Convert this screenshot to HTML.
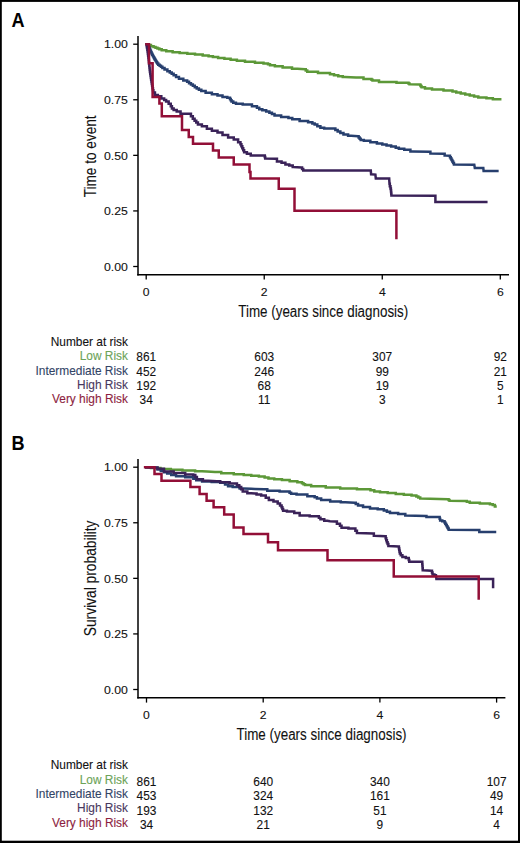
<!DOCTYPE html>
<html><head><meta charset="utf-8"><style>
html,body{margin:0;padding:0;background:#fff;}
svg{display:block;}
text{font-family:"Liberation Sans",sans-serif;fill:#111;stroke:#111;stroke-width:0.1px;}
</style></head><body>
<svg width="520" height="843" viewBox="0 0 520 843">
<rect x="0" y="0" width="520" height="843" fill="#fff"/>
<rect x="0" y="0" width="1.8" height="843" fill="#000"/><rect x="0" y="0" width="520" height="1.9" fill="#000"/><rect x="518" y="0" width="2" height="843" fill="#000"/><rect x="0" y="840.7" width="520" height="2.3" fill="#000"/>
<text transform="translate(11.5,26.9) scale(0.93,1)" font-size="19.5" font-weight="bold" style="fill:#000;stroke:none">A</text>
<text transform="translate(11.6,450) scale(0.93,1)" font-size="19.5" font-weight="bold" style="fill:#000;stroke:none">B</text>
<line x1="138" y1="36" x2="138" y2="275.5" stroke="#000" stroke-width="1.5"/>
<line x1="137.25" y1="274.8" x2="509" y2="274.8" stroke="#000" stroke-width="1.4"/>
<line x1="133.2" y1="44.20" x2="138" y2="44.20" stroke="#000" stroke-width="1.3"/>
<text transform="translate(127.9,48.40) scale(1.07,1)" font-size="11.5" text-anchor="end">1.00</text>
<line x1="133.2" y1="99.78" x2="138" y2="99.78" stroke="#000" stroke-width="1.3"/>
<text transform="translate(127.9,103.98) scale(1.07,1)" font-size="11.5" text-anchor="end">0.75</text>
<line x1="133.2" y1="155.35" x2="138" y2="155.35" stroke="#000" stroke-width="1.3"/>
<text transform="translate(127.9,159.55) scale(1.07,1)" font-size="11.5" text-anchor="end">0.50</text>
<line x1="133.2" y1="210.93" x2="138" y2="210.93" stroke="#000" stroke-width="1.3"/>
<text transform="translate(127.9,215.12) scale(1.07,1)" font-size="11.5" text-anchor="end">0.25</text>
<line x1="133.2" y1="266.50" x2="138" y2="266.50" stroke="#000" stroke-width="1.3"/>
<text transform="translate(127.9,270.70) scale(1.07,1)" font-size="11.5" text-anchor="end">0.00</text>
<line x1="146.20" y1="274.8" x2="146.20" y2="279.6" stroke="#000" stroke-width="1.3"/>
<text transform="translate(146.20,295.7) scale(1.05,1)" font-size="11.6" text-anchor="middle">0</text>
<line x1="264.23" y1="274.8" x2="264.23" y2="279.6" stroke="#000" stroke-width="1.3"/>
<text transform="translate(264.23,295.7) scale(1.05,1)" font-size="11.6" text-anchor="middle">2</text>
<line x1="382.27" y1="274.8" x2="382.27" y2="279.6" stroke="#000" stroke-width="1.3"/>
<text transform="translate(382.27,295.7) scale(1.05,1)" font-size="11.6" text-anchor="middle">4</text>
<line x1="500.30" y1="274.8" x2="500.30" y2="279.6" stroke="#000" stroke-width="1.3"/>
<text transform="translate(500.30,295.7) scale(1.05,1)" font-size="11.6" text-anchor="middle">6</text>
<text x="323.25" y="316.8" font-size="16" text-anchor="middle" textLength="170" lengthAdjust="spacingAndGlyphs">Time (years since diagnosis)</text>
<text transform="translate(95.5,156.35) rotate(-90)" x="0" y="0" font-size="16" text-anchor="middle" textLength="82" lengthAdjust="spacingAndGlyphs">Time to event</text>
<polyline points="146.90,44.30 148.10,44.30 148.10,45.00 149.30,45.00 150.95,45.00 150.95,46.20 152.60,46.20 153.57,46.20 153.57,47.00 155.53,47.00 155.53,47.80 156.50,47.80 157.45,47.80 157.45,48.55 159.35,48.55 159.35,49.30 160.30,49.30 161.70,49.30 161.70,50.30 163.10,50.30 166.28,50.30 166.28,51.30 172.62,51.30 172.62,52.30 175.80,52.30 179.65,52.30 179.65,53.05 187.35,53.05 187.35,53.80 191.20,53.80 195.02,53.80 195.02,54.60 202.68,54.60 202.68,55.40 206.50,55.40 208.62,55.40 208.62,56.20 212.88,56.20 212.88,57.00 215.00,57.00 218.12,57.00 218.12,57.92 224.38,57.92 224.38,58.85 230.62,58.85 230.62,59.78 236.88,59.78 236.88,60.70 240.00,60.70 245.00,60.70 245.00,61.75 255.00,61.75 255.00,62.80 260.00,62.80 263.50,62.80 263.50,63.40 267.00,63.40 268.00,63.40 268.00,64.30 270.00,64.30 270.00,65.20 271.00,65.20 274.88,65.20 274.88,66.30 282.62,66.30 282.62,67.40 286.50,67.40 292.00,67.40 292.00,68.80 297.50,68.80 305.00,69.30 305.75,69.30 305.75,70.55 307.25,70.55 307.25,71.80 308.00,71.80 318.00,71.80 318.00,73.10 328.00,73.10 330.00,73.10 330.00,74.20 334.00,74.20 334.00,75.30 336.00,75.30 338.25,75.30 338.25,76.15 342.75,76.15 342.75,77.00 345.00,77.00 356.00,77.60 363.50,77.60 363.50,79.00 371.00,79.00 371.50,79.00 371.50,79.80 372.50,79.80 372.50,80.60 373.00,80.60 379.00,80.60 379.00,81.90 385.00,81.90 396.50,81.90 396.50,82.80 408.00,82.80 408.50,82.80 408.50,83.55 409.50,83.55 409.50,84.30 410.00,84.30 420.00,84.60 420.33,84.60 420.33,85.50 421.00,85.50 421.00,86.40 421.67,86.40 421.67,87.30 422.00,87.30 425.00,87.30 425.00,88.40 428.00,88.40 432.00,88.40 432.00,89.60 436.00,89.60 443.50,89.60 443.50,90.50 451.00,90.50 452.50,90.50 452.50,91.50 454.00,91.50 456.25,91.50 456.25,92.55 460.75,92.55 460.75,93.60 463.00,93.60 465.25,93.60 465.25,94.60 469.75,94.60 469.75,95.60 472.00,95.60 474.10,95.60 474.10,96.60 478.30,96.60 478.30,97.60 480.40,97.60 486.45,97.60 486.45,98.30 492.50,98.30 492.85,98.30 492.85,99.30 493.20,99.30 500.20,99.30" fill="none" stroke="#5c9838" stroke-width="2.5" stroke-linejoin="miter" stroke-linecap="square"/>
<polyline points="146.90,44.30 147.70,44.30 147.70,46.00 148.50,46.00 148.80,46.00 148.80,47.25 149.40,47.25 149.40,48.50 149.70,48.50 149.96,48.50 149.96,49.75 150.49,49.75 150.49,51.00 151.01,51.00 151.01,52.25 151.54,52.25 151.54,53.50 151.80,53.50 152.14,53.50 152.14,54.75 152.81,54.75 152.81,56.00 153.49,56.00 153.49,57.25 154.16,57.25 154.16,58.50 154.50,58.50 154.89,58.50 154.89,59.75 155.66,59.75 155.66,61.00 156.44,61.00 156.44,62.25 157.21,62.25 157.21,63.50 157.60,63.50 158.28,63.50 158.28,64.65 159.62,64.65 159.62,65.80 160.30,65.80 161.00,65.80 161.00,66.85 162.40,66.85 162.40,67.90 163.10,67.90 164.53,67.90 164.53,69.55 167.38,69.55 167.38,71.20 168.80,71.20 169.77,71.20 169.77,72.53 171.70,72.53 171.70,73.87 173.63,73.87 173.63,75.20 174.60,75.20 176.05,75.20 176.05,76.95 178.95,76.95 178.95,78.70 180.40,78.70 183.30,78.70 183.30,80.40 186.20,80.40 187.15,80.40 187.15,81.77 189.05,81.77 189.05,83.13 190.95,83.13 190.95,84.50 191.90,84.50 192.87,84.50 192.87,85.83 194.80,85.83 194.80,87.17 196.73,87.17 196.73,88.50 197.70,88.50 198.90,88.50 198.90,89.75 201.30,89.75 201.30,91.00 202.50,91.00 205.62,91.00 205.62,92.65 211.88,92.65 211.88,94.30 215.00,94.30 217.50,94.30 217.50,95.60 222.50,95.60 222.50,96.90 225.00,96.90 227.30,96.90 227.30,97.70 229.60,97.70 229.98,97.70 229.98,98.97 230.75,98.97 230.75,100.23 231.52,100.23 231.52,101.50 231.90,101.50 233.25,101.50 233.25,102.65 235.95,102.65 235.95,103.80 237.30,103.80 242.70,103.80 242.70,104.60 248.10,104.60 251.95,104.60 251.95,106.20 255.80,106.20 256.95,106.20 256.95,107.70 259.25,107.70 259.25,109.20 260.40,109.20 262.32,109.20 262.32,110.35 266.18,110.35 266.18,111.50 268.10,111.50 269.38,111.50 269.38,112.80 271.95,112.80 271.95,114.10 274.52,114.10 274.52,115.40 275.80,115.40 281.15,115.40 281.15,116.90 286.50,116.90 288.43,116.90 288.43,118.05 292.27,118.05 292.27,119.20 294.20,119.20 299.60,119.20 299.60,121.00 305.00,121.00 308.10,121.00 308.10,122.30 311.20,122.30 312.35,122.30 312.35,123.45 314.65,123.45 314.65,124.60 315.80,124.60 317.32,124.60 317.32,126.15 320.38,126.15 320.38,127.70 321.90,127.70 324.20,127.70 324.20,128.50 326.50,128.50 334.20,128.50 335.35,128.50 335.35,130.00 337.65,130.00 337.65,131.50 338.80,131.50 340.35,131.50 340.35,133.05 343.45,133.05 343.45,134.60 345.00,134.60 348.10,134.60 348.10,135.70 351.20,135.70 358.10,136.20 358.62,136.20 358.62,137.47 359.65,137.47 359.65,138.73 360.68,138.73 360.68,140.00 361.20,140.00 363.85,140.00 363.85,140.80 366.50,140.80 370.35,140.80 370.35,142.30 374.20,142.30 376.90,142.30 376.90,143.45 382.30,143.45 382.30,144.60 385.00,144.60 386.55,144.60 386.55,145.40 388.10,145.40 391.15,145.40 391.15,146.60 394.20,146.60 395.75,146.60 395.75,147.70 398.85,147.70 398.85,148.80 400.40,148.80 404.25,148.80 404.25,149.70 408.10,149.70 410.40,149.70 410.40,151.50 412.70,151.50 429.60,151.80 430.40,151.80 430.40,153.50 431.20,153.50 443.50,153.80 444.65,153.80 444.65,155.40 445.80,155.40 449.60,155.80 449.98,155.80 449.98,157.20 450.75,157.20 450.75,158.60 451.52,158.60 451.52,160.00 451.90,160.00 452.32,160.00 452.32,161.50 453.15,161.50 453.15,163.00 453.98,163.00 453.98,164.50 454.40,164.50 474.30,164.80 474.80,167.90 483.30,167.90 483.60,171.00 497.40,171.00" fill="none" stroke="#273f6e" stroke-width="2.5" stroke-linejoin="miter" stroke-linecap="square"/>
<polyline points="146.50,44.30 146.67,44.30 146.67,46.20 147.00,46.20 147.00,48.10 147.33,48.10 147.33,50.00 147.50,50.00 147.63,50.00 147.63,52.00 147.89,52.00 147.89,54.00 148.15,54.00 148.15,56.00 148.41,56.00 148.41,58.00 148.67,58.00 148.67,60.00 148.80,60.00 148.90,60.00 148.90,62.00 149.10,62.00 149.10,64.00 149.30,64.00 149.30,66.00 149.50,66.00 149.50,68.00 149.70,68.00 149.70,70.00 149.80,70.00 149.95,70.00 149.95,72.00 150.25,72.00 150.25,74.00 150.55,74.00 150.55,76.00 150.85,76.00 150.85,78.00 151.00,78.00 151.16,78.00 151.16,80.00 151.49,80.00 151.49,82.00 151.81,82.00 151.81,84.00 152.14,84.00 152.14,86.00 152.30,86.00 152.52,86.00 152.52,88.17 152.95,88.17 152.95,90.33 153.38,90.33 153.38,92.50 153.60,92.50 154.95,92.50 154.95,95.00 156.30,95.00 157.85,95.00 157.85,96.20 159.40,96.20 161.30,96.20 161.30,98.50 163.20,98.50 164.17,98.50 164.17,100.00 166.12,100.00 166.12,101.50 167.10,101.50 168.65,101.50 168.65,103.80 170.20,103.80 170.77,103.80 170.77,106.15 171.93,106.15 171.93,108.50 172.50,108.50 173.65,108.50 173.65,110.00 174.80,110.00 176.70,110.00 176.70,111.50 178.60,111.50 180.55,111.50 180.55,113.80 182.50,113.80 190.00,113.80 190.94,113.80 190.94,116.28 192.81,116.28 192.81,118.75 193.75,118.75 194.58,118.75 194.58,120.67 196.25,120.67 196.25,122.58 197.92,122.58 197.92,124.50 198.75,124.50 201.88,124.50 201.88,126.25 205.00,126.25 206.88,126.25 206.88,128.75 208.75,128.75 211.88,128.75 211.88,130.75 215.00,130.75 217.50,130.75 217.50,132.50 220.00,132.50 222.50,132.50 222.50,135.00 225.00,135.00 228.12,135.00 228.12,137.50 231.25,137.50 233.75,137.50 233.75,139.50 236.25,139.50 238.12,139.50 238.12,142.30 240.00,142.30 240.46,142.30 240.46,144.30 241.38,144.30 241.38,146.30 242.30,146.30 242.30,148.30 243.22,148.30 243.22,150.30 244.14,150.30 244.14,152.30 244.60,152.30 246.90,152.30 246.90,153.80 249.20,153.80 250.75,153.80 250.75,155.40 252.30,155.40 264.60,155.40 264.80,155.40 264.80,156.95 265.20,156.95 265.20,158.50 265.40,158.50 275.40,158.80 276.95,158.80 276.95,161.50 278.50,161.50 281.55,161.50 281.55,162.80 284.60,162.80 285.40,162.80 285.40,164.60 286.20,164.60 289.25,164.60 289.25,165.40 292.30,165.40 292.70,165.40 292.70,166.90 293.10,166.90 301.50,167.40 302.07,167.40 302.07,169.00 303.23,169.00 303.23,170.60 303.80,170.60 370.80,170.60 371.10,174.30 375.40,174.60 375.80,178.60 389.20,178.60 389.50,183.80 389.82,183.80 389.82,186.15 390.48,186.15 390.48,188.50 390.80,188.50 390.89,188.50 390.89,190.28 391.06,190.28 391.06,192.05 391.24,192.05 391.24,193.82 391.41,193.82 391.41,195.60 391.50,195.60 435.40,195.70 435.40,201.90 486.30,201.90" fill="none" stroke="#3a2258" stroke-width="2.5" stroke-linejoin="miter" stroke-linecap="square"/>
<polyline points="146.50,44.30 149.00,44.30 149.00,63.20 152.60,63.20 152.60,97.00 159.40,97.00 159.40,103.40 161.80,103.40 161.80,116.20 182.00,116.20 182.00,130.00 188.75,130.00 188.75,137.00 193.00,137.00 193.00,143.75 213.00,143.75 213.00,150.50 218.75,150.50 218.75,157.50 233.75,157.50 233.75,164.50 249.50,164.50 249.50,172.00 250.50,172.00 250.50,178.50 278.75,178.50 278.75,188.75 294.50,188.75 294.50,210.75 396.40,210.75 396.40,238.00" fill="none" stroke="#920f37" stroke-width="2.5" stroke-linejoin="miter" stroke-linecap="square"/>
<text x="128" y="345.6" font-size="11.9" text-anchor="end">Number at risk</text>
<text x="128" y="360.4" font-size="11.9" text-anchor="end" style="fill:#6ca358;stroke:#6ca358">Low Risk</text>
<text x="146.20" y="361.29999999999995" font-size="11.9" text-anchor="middle">861</text>
<text x="264.23" y="361.29999999999995" font-size="11.9" text-anchor="middle">603</text>
<text x="382.27" y="361.29999999999995" font-size="11.9" text-anchor="middle">307</text>
<text x="500.30" y="361.29999999999995" font-size="11.9" text-anchor="middle">92</text>
<text x="128" y="374.7" font-size="11.9" text-anchor="end" style="fill:#324466;stroke:#324466">Intermediate Risk</text>
<text x="146.20" y="375.59999999999997" font-size="11.9" text-anchor="middle">452</text>
<text x="264.23" y="375.59999999999997" font-size="11.9" text-anchor="middle">246</text>
<text x="382.27" y="375.59999999999997" font-size="11.9" text-anchor="middle">99</text>
<text x="500.30" y="375.59999999999997" font-size="11.9" text-anchor="middle">21</text>
<text x="128" y="389.1" font-size="11.9" text-anchor="end" style="fill:#48385e;stroke:#48385e">High Risk</text>
<text x="146.20" y="390.0" font-size="11.9" text-anchor="middle">192</text>
<text x="264.23" y="390.0" font-size="11.9" text-anchor="middle">68</text>
<text x="382.27" y="390.0" font-size="11.9" text-anchor="middle">19</text>
<text x="500.30" y="390.0" font-size="11.9" text-anchor="middle">5</text>
<text x="128" y="403.4" font-size="11.9" text-anchor="end" style="fill:#8c1e40;stroke:#8c1e40">Very high Risk</text>
<text x="146.20" y="404.29999999999995" font-size="11.9" text-anchor="middle">34</text>
<text x="264.23" y="404.29999999999995" font-size="11.9" text-anchor="middle">11</text>
<text x="382.27" y="404.29999999999995" font-size="11.9" text-anchor="middle">3</text>
<text x="500.30" y="404.29999999999995" font-size="11.9" text-anchor="middle">1</text>
<line x1="138" y1="459" x2="138" y2="698.5" stroke="#000" stroke-width="1.5"/>
<line x1="137.25" y1="697.8" x2="505.4" y2="697.8" stroke="#000" stroke-width="1.4"/>
<line x1="133.2" y1="467.20" x2="138" y2="467.20" stroke="#000" stroke-width="1.3"/>
<text transform="translate(127.9,471.40) scale(1.07,1)" font-size="11.5" text-anchor="end">1.00</text>
<line x1="133.2" y1="522.77" x2="138" y2="522.77" stroke="#000" stroke-width="1.3"/>
<text transform="translate(127.9,526.98) scale(1.07,1)" font-size="11.5" text-anchor="end">0.75</text>
<line x1="133.2" y1="578.35" x2="138" y2="578.35" stroke="#000" stroke-width="1.3"/>
<text transform="translate(127.9,582.55) scale(1.07,1)" font-size="11.5" text-anchor="end">0.50</text>
<line x1="133.2" y1="633.92" x2="138" y2="633.92" stroke="#000" stroke-width="1.3"/>
<text transform="translate(127.9,638.12) scale(1.07,1)" font-size="11.5" text-anchor="end">0.25</text>
<line x1="133.2" y1="689.50" x2="138" y2="689.50" stroke="#000" stroke-width="1.3"/>
<text transform="translate(127.9,693.70) scale(1.07,1)" font-size="11.5" text-anchor="end">0.00</text>
<line x1="146.50" y1="697.8" x2="146.50" y2="702.6" stroke="#000" stroke-width="1.3"/>
<text transform="translate(146.50,718.7) scale(1.05,1)" font-size="11.6" text-anchor="middle">0</text>
<line x1="263.20" y1="697.8" x2="263.20" y2="702.6" stroke="#000" stroke-width="1.3"/>
<text transform="translate(263.20,718.7) scale(1.05,1)" font-size="11.6" text-anchor="middle">2</text>
<line x1="379.90" y1="697.8" x2="379.90" y2="702.6" stroke="#000" stroke-width="1.3"/>
<text transform="translate(379.90,718.7) scale(1.05,1)" font-size="11.6" text-anchor="middle">4</text>
<line x1="496.60" y1="697.8" x2="496.60" y2="702.6" stroke="#000" stroke-width="1.3"/>
<text transform="translate(496.60,718.7) scale(1.05,1)" font-size="11.6" text-anchor="middle">6</text>
<text x="321.55" y="739.8" font-size="16" text-anchor="middle" textLength="170" lengthAdjust="spacingAndGlyphs">Time (years since diagnosis)</text>
<text transform="translate(95.5,578.45) rotate(-90)" x="0" y="0" font-size="16" text-anchor="middle" textLength="115.7" lengthAdjust="spacingAndGlyphs">Survival probability</text>
<polyline points="146.25,467.25 151.03,467.25 151.03,468.10 155.80,468.10 160.45,468.10 160.45,469.00 165.10,469.00 170.85,469.00 170.85,469.80 176.60,469.80 182.40,469.80 182.40,470.60 188.20,470.60 195.10,470.60 195.10,471.30 202.00,471.30 207.00,471.60 215.00,472.00 221.25,472.00 221.25,473.15 233.75,473.15 233.75,474.30 240.00,474.30 243.75,474.30 243.75,475.05 251.25,475.05 251.25,475.80 255.00,475.80 258.85,475.80 258.85,476.50 262.70,476.50 264.62,476.50 264.62,477.50 268.47,477.50 268.47,478.50 270.40,478.50 274.25,478.50 274.25,479.25 281.95,479.25 281.95,480.00 285.80,480.00 289.65,480.00 289.65,481.15 297.35,481.15 297.35,482.30 301.20,482.30 301.97,482.30 301.97,483.23 303.50,483.23 303.50,484.17 305.03,484.17 305.03,485.10 305.80,485.10 311.15,485.10 311.15,486.20 316.50,486.20 325.75,486.20 325.75,487.60 335.00,487.60 340.20,487.60 340.20,488.50 345.40,488.50 356.95,488.50 356.95,489.20 368.50,489.20 370.43,489.20 370.43,490.35 374.27,490.35 374.27,491.50 376.20,491.50 380.02,491.50 380.02,492.30 387.68,492.30 387.68,493.10 391.50,493.10 395.75,493.10 395.75,493.90 400.00,493.90 403.85,493.90 403.85,494.65 411.55,494.65 411.55,495.40 415.40,495.40 416.37,495.40 416.37,496.47 418.30,496.47 418.30,497.53 420.23,497.53 420.23,498.60 421.20,498.60 448.10,499.20 448.58,499.20 448.58,499.95 449.52,499.95 449.52,500.70 450.00,500.70 465.40,500.90 466.85,500.90 466.85,501.80 469.75,501.80 469.75,502.70 471.20,502.70 479.85,502.70 479.85,503.50 488.50,503.50 489.93,503.50 489.93,504.25 492.77,504.25 492.77,505.00 494.20,505.00 494.85,505.00 494.85,506.40 495.50,506.40" fill="none" stroke="#5c9838" stroke-width="2.5" stroke-linejoin="miter" stroke-linecap="square"/>
<polyline points="146.25,467.25 155.75,467.80 157.47,467.80 157.47,469.60 159.20,469.60 160.80,469.60 160.80,470.90 164.00,470.90 164.00,472.20 167.20,472.20 167.20,473.50 168.80,473.50 171.23,473.50 171.23,474.90 176.07,474.90 176.07,476.30 178.50,476.30 185.20,476.30 185.20,477.30 191.90,477.30 193.35,477.30 193.35,478.75 196.25,478.75 196.25,480.20 197.70,480.20 202.10,480.20 202.10,481.50 206.50,481.50 211.70,481.50 211.70,482.10 216.90,482.10 220.20,482.10 220.20,482.80 223.50,482.80 225.03,482.80 225.03,484.50 228.07,484.50 228.07,486.20 229.60,486.20 232.70,486.20 232.70,486.90 235.80,486.90 239.65,486.90 239.65,488.50 243.50,488.50 251.20,488.80 255.00,488.90 264.20,489.20 267.30,489.20 267.30,490.80 270.40,490.80 279.60,490.80 279.60,491.50 288.80,491.50 289.57,491.50 289.57,492.65 291.12,492.65 291.12,493.80 291.90,493.80 296.55,493.80 296.55,494.60 301.20,494.60 307.35,494.60 307.35,496.20 313.50,496.20 314.65,496.20 314.65,497.35 316.95,497.35 316.95,498.50 318.10,498.50 321.15,498.50 321.15,500.00 324.20,500.00 330.20,500.00 330.20,501.50 336.20,501.50 340.80,501.50 340.80,502.30 345.40,502.30 354.60,502.80 355.75,502.80 355.75,504.10 358.05,504.10 358.05,505.40 359.20,505.40 363.05,505.40 363.05,506.90 366.90,506.90 370.00,506.90 370.00,508.50 373.10,508.50 377.70,508.50 377.70,509.20 382.30,509.20 383.83,509.20 383.83,510.50 386.90,510.50 386.90,511.80 389.97,511.80 389.97,513.10 391.50,513.10 398.15,513.10 398.15,514.00 404.80,514.00 405.30,514.00 405.30,515.60 405.80,515.60 426.00,516.10 426.45,516.10 426.45,516.90 426.90,516.90 439.40,517.10 439.65,517.10 439.65,518.75 440.15,518.75 440.15,520.40 440.40,520.40 442.30,520.40 442.30,521.30 444.20,521.30 444.56,521.30 444.56,522.52 445.29,522.52 445.29,523.75 446.01,523.75 446.01,524.98 446.74,524.98 446.74,526.20 447.10,526.20 447.42,526.20 447.42,527.40 448.05,527.40 448.05,528.60 448.68,528.60 448.68,529.80 449.00,529.80 478.80,530.00 479.30,530.00 479.30,532.00 479.80,532.00 495.00,532.10" fill="none" stroke="#273f6e" stroke-width="2.5" stroke-linejoin="miter" stroke-linecap="square"/>
<polyline points="146.25,467.25 155.75,467.60 157.47,467.60 157.47,468.70 159.20,468.70 164.00,468.70 164.00,471.50 168.80,471.50 173.65,471.50 173.65,473.10 178.50,473.10 185.20,473.10 185.20,474.40 191.90,474.40 193.20,474.40 193.20,475.00 194.50,475.00 195.30,475.00 195.30,477.10 196.90,477.10 196.90,479.20 197.70,479.20 202.90,479.20 202.90,480.80 208.10,480.80 216.90,481.20 220.20,481.20 220.20,482.30 223.50,482.30 229.65,482.30 229.65,483.50 235.80,483.50 236.95,483.50 236.95,485.20 239.25,485.20 239.25,486.90 240.40,486.90 241.18,486.90 241.18,489.20 242.72,489.20 242.72,491.50 243.50,491.50 247.35,491.50 247.35,493.20 251.20,493.20 255.00,493.40 256.55,493.40 256.55,494.60 258.10,494.60 261.15,494.60 261.15,495.40 264.20,495.40 265.75,495.40 265.75,497.70 268.85,497.70 268.85,500.00 270.40,500.00 273.45,500.00 273.45,501.50 276.50,501.50 277.68,501.50 277.68,503.45 280.02,503.45 280.02,505.40 281.20,505.40 281.58,505.40 281.58,507.20 282.35,507.20 282.35,509.00 283.12,509.00 283.12,510.80 283.50,510.80 286.95,510.80 286.95,511.50 290.40,511.50 294.25,511.50 294.25,513.10 298.10,513.10 299.65,513.10 299.65,515.40 301.20,515.40 309.65,515.40 309.65,516.20 318.10,516.20 318.88,516.20 318.88,517.70 320.43,517.70 320.43,519.20 321.20,519.20 324.25,519.20 324.25,520.80 327.30,520.80 330.00,521.30 334.60,521.60 336.90,521.60 336.90,523.80 339.20,523.80 339.98,523.80 339.98,525.75 341.52,525.75 341.52,527.70 342.30,527.70 348.45,527.70 348.45,528.50 354.60,528.50 355.38,528.50 355.38,530.80 356.93,530.80 356.93,533.10 357.70,533.10 373.10,533.50 373.85,533.50 373.85,535.70 374.60,535.70 385.40,536.20 385.67,536.20 385.67,538.20 386.23,538.20 386.23,540.20 386.50,540.20 386.88,540.20 386.88,542.13 387.62,542.13 387.62,544.07 388.38,544.07 388.38,546.00 388.75,546.00 398.75,546.50 398.91,546.50 398.91,548.25 399.22,548.25 399.22,550.00 399.53,550.00 399.53,551.75 399.84,551.75 399.84,553.50 400.00,553.50 400.80,553.50 400.80,555.20 402.40,555.20 402.40,556.90 403.20,556.90 405.85,556.90 405.85,558.00 408.50,558.00 408.75,558.00 408.75,559.90 409.25,559.90 409.25,561.80 409.50,561.80 422.20,561.80 422.27,561.80 422.27,563.91 422.43,563.91 422.43,566.02 422.57,566.02 422.57,568.14 422.73,568.14 422.73,570.25 422.80,570.25 431.70,570.70 431.98,570.70 431.98,572.60 432.52,572.60 432.52,574.50 432.80,574.50 434.40,574.50 434.40,575.30 436.00,575.30 436.40,579.10 493.10,579.10 493.10,587.00" fill="none" stroke="#3a2258" stroke-width="2.5" stroke-linejoin="miter" stroke-linecap="square"/>
<polyline points="145.10,467.25 154.50,467.25 154.50,474.10 161.50,474.10 161.50,480.75 190.40,480.75 190.40,487.00 199.60,487.00 199.60,493.90 206.60,493.90 206.60,500.80 213.60,500.80 213.60,507.20 224.20,507.20 224.20,514.50 233.70,514.50 233.70,527.60 243.50,527.60 243.50,534.00 268.00,534.00 268.00,542.25 278.00,542.25 278.00,550.25 327.50,550.25 327.50,560.25 393.75,560.25 393.75,576.40 478.70,576.40 478.70,598.40" fill="none" stroke="#920f37" stroke-width="2.5" stroke-linejoin="miter" stroke-linecap="square"/>
<text x="128" y="768.9000000000001" font-size="11.9" text-anchor="end">Number at risk</text>
<text x="128" y="783.7" font-size="11.9" text-anchor="end" style="fill:#6ca358;stroke:#6ca358">Low Risk</text>
<text x="146.50" y="786.0999999999999" font-size="11.9" text-anchor="middle">861</text>
<text x="263.20" y="786.0999999999999" font-size="11.9" text-anchor="middle">640</text>
<text x="379.90" y="786.0999999999999" font-size="11.9" text-anchor="middle">340</text>
<text x="496.60" y="786.0999999999999" font-size="11.9" text-anchor="middle">107</text>
<text x="128" y="798.0" font-size="11.9" text-anchor="end" style="fill:#324466;stroke:#324466">Intermediate Risk</text>
<text x="146.50" y="800.4" font-size="11.9" text-anchor="middle">453</text>
<text x="263.20" y="800.4" font-size="11.9" text-anchor="middle">324</text>
<text x="379.90" y="800.4" font-size="11.9" text-anchor="middle">161</text>
<text x="496.60" y="800.4" font-size="11.9" text-anchor="middle">49</text>
<text x="128" y="812.4000000000001" font-size="11.9" text-anchor="end" style="fill:#48385e;stroke:#48385e">High Risk</text>
<text x="146.50" y="814.8" font-size="11.9" text-anchor="middle">193</text>
<text x="263.20" y="814.8" font-size="11.9" text-anchor="middle">132</text>
<text x="379.90" y="814.8" font-size="11.9" text-anchor="middle">51</text>
<text x="496.60" y="814.8" font-size="11.9" text-anchor="middle">14</text>
<text x="128" y="826.7" font-size="11.9" text-anchor="end" style="fill:#8c1e40;stroke:#8c1e40">Very high Risk</text>
<text x="146.50" y="829.0999999999999" font-size="11.9" text-anchor="middle">34</text>
<text x="263.20" y="829.0999999999999" font-size="11.9" text-anchor="middle">21</text>
<text x="379.90" y="829.0999999999999" font-size="11.9" text-anchor="middle">9</text>
<text x="496.60" y="829.0999999999999" font-size="11.9" text-anchor="middle">4</text>
</svg>
</body></html>
